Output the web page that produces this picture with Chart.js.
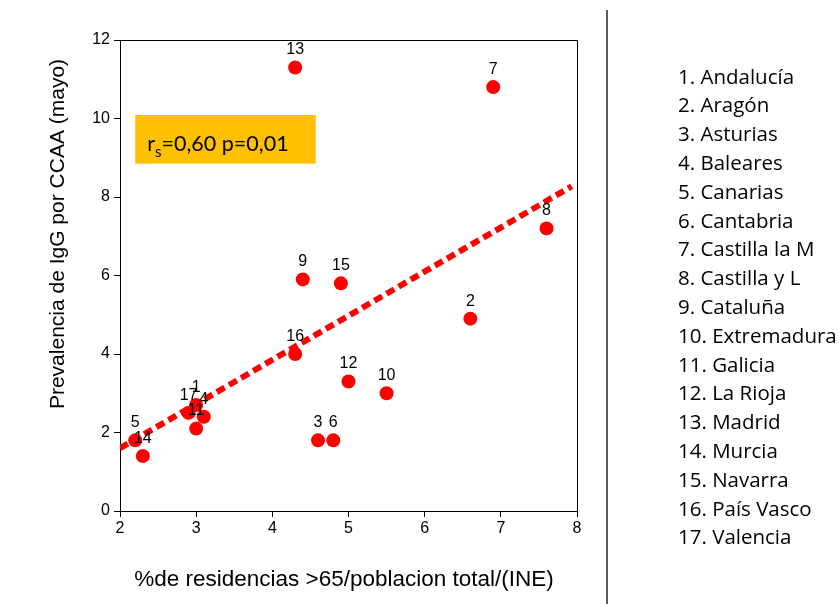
<!DOCTYPE html>
<html>
<head>
<meta charset="utf-8">
<script src="https://cdn.jsdelivr.net/npm/chart.js@4"></script>
<style>
  html, body { margin: 0; padding: 0; background: #fff; }
  #wrap { position: relative; width: 839px; height: 604px; }
</style>
</head>
<body>
<div id="wrap"><canvas id="c" width="839" height="604"></canvas></div>
<script>
// Comunidades autónomas (numbered as in the side list)
const regionIds = ['1','2','3','4','5','6','7','8','9','10','11','12','13','14','15','16','17'];
const regionNames = ['Andalucía','Aragón','Asturias','Baleares','Canarias','Cantabria',
  'Castilla la M','Castilla y L','Cataluña','Extremadura','Galicia','La Rioja',
  'Madrid','Murcia','Navarra','País Vasco','Valencia'];
// % residencias >65 / población total (INE)
const residencias = [3.0, 6.6, 4.6, 3.1, 2.2, 4.8, 6.9, 7.6, 4.4, 5.5, 3.0, 5.0, 4.3, 2.3, 4.9, 4.3, 2.9];
// Prevalencia de IgG (mayo)
const prevalencia = [2.7, 4.9, 1.8, 2.4, 1.8, 1.8, 10.8, 7.2, 5.9, 3.0, 2.1, 3.3, 11.3, 1.4, 5.8, 4.0, 2.5];
// Regression line end points
const trendX = [2.0, 7.93];
const trendY = [1.6, 8.27];
// Axis ticks and titles
const xTicks = [2, 3, 4, 5, 6, 7, 8];
const yTicks = [0, 2, 4, 6, 8, 10, 12];
const xTitle = '%de residencias >65/poblacion total/(INE)';
const yTitle = 'Prevalencia de IgG por CCAA (mayo)';
// Correlation note
const corrText = ['r', 's', '=0,60 p=0,01'];
const corrBox = { x0: 2.2, x1: 4.57, y0: 10.09, y1: 8.85 };

const AXIS_FONT = 'Arial, "Liberation Sans", sans-serif';
const NOTE_FONT = 'Lato, "Open Sans", sans-serif';
const LIST_FONT = '"Open Sans", Lato, sans-serif';

const scatterPoints = residencias.map((x, i) => ({ x, y: prevalencia[i] }));
const trendPoints = trendX.map((x, i) => ({ x, y: trendY[i] }));

const extras = {
  id: 'extras',
  beforeDatasetsDraw(chart) {
    const { ctx, scales: { x, y } } = chart;
    // correlation box
    const bx = x.getPixelForValue(corrBox.x0), bx1 = x.getPixelForValue(corrBox.x1);
    const by = y.getPixelForValue(corrBox.y0), by1 = y.getPixelForValue(corrBox.y1);
    ctx.save();
    ctx.fillStyle = '#FFC000';
    ctx.fillRect(bx, by, bx1 - bx, by1 - by);
    ctx.fillStyle = '#000';
    ctx.textBaseline = 'alphabetic';
    ctx.textAlign = 'left';
    let tx = bx + 12, base = by + 36;
    ctx.font = '21.5px ' + NOTE_FONT;
    ctx.fillText(corrText[0], tx, base);
    tx += ctx.measureText(corrText[0]).width;
    ctx.font = '15px ' + NOTE_FONT;
    ctx.fillText(corrText[1], tx, base + 6);
    tx += ctx.measureText(corrText[1]).width;
    ctx.font = '21.5px ' + NOTE_FONT;
    ctx.fillText(corrText[2], tx, base);
    ctx.restore();
  },
  afterDatasetsDraw(chart) {
    const { ctx, chartArea: a, scales: { x, y } } = chart;
    ctx.save();
    // frame around plot
    ctx.strokeStyle = '#000';
    ctx.lineWidth = 1;
    ctx.beginPath();
    ctx.moveTo(a.left, a.top + 0.5);
    ctx.lineTo(a.right + 0.5, a.top + 0.5);
    ctx.lineTo(a.right + 0.5, a.bottom);
    ctx.stroke();
    // point numbers
    ctx.fillStyle = '#000';
    ctx.font = '16px ' + AXIS_FONT;
    ctx.textAlign = 'center';
    ctx.textBaseline = 'middle';
    regionIds.forEach((id, i) => {
      const px = x.getPixelForValue(residencias[i]);
      const py = y.getPixelForValue(prevalencia[i]);
      ctx.fillText(id, px, py - 17.5);
    });
    // axis titles
    ctx.font = '22.5px ' + AXIS_FONT;
    ctx.fillText(xTitle, 344, 580);
    ctx.save();
    ctx.translate(58, 234);
    ctx.rotate(-Math.PI / 2);
    ctx.font = '21px ' + AXIS_FONT;
    ctx.fillText(yTitle, 0, 0);
    ctx.restore();
    // divider
    ctx.lineWidth = 1.3;
    ctx.beginPath();
    ctx.moveTo(607, 10);
    ctx.lineTo(607, 604);
    ctx.stroke();
    // region list
    ctx.font = '20.5px ' + LIST_FONT;
    ctx.textAlign = 'left';
    ctx.textBaseline = 'alphabetic';
    regionNames.forEach((name, i) => {
      ctx.fillText(regionIds[i] + '. ' + name, 678, 83.5 + i * 28.8);
    });
    ctx.restore();
  }
};

new Chart(document.getElementById('c'), {
  data: {
    datasets: [
      {
        type: 'scatter',
        data: scatterPoints,
        backgroundColor: '#FF0000',
        borderColor: '#FF0000',
        pointRadius: 7,
        pointHoverRadius: 7,
        borderWidth: 0
      },
      {
        type: 'line',
        data: trendPoints,
        borderColor: '#FF0000',
        borderWidth: 6,
        borderDash: [9, 5],
        borderCapStyle: 'butt',
        pointRadius: 0,
        fill: false
      }
    ]
  },
  options: {
    responsive: false,
    animation: false,
    devicePixelRatio: 1,
    layout: { padding: { top: 40, right: 262, left: 0, bottom: 0 } },
    plugins: { legend: { display: false }, tooltip: { enabled: false } },
    scales: {
      x: {
        type: 'linear',
        min: xTicks[0],
        max: xTicks[xTicks.length - 1],
        afterBuildTicks: s => { s.ticks = xTicks.map(v => ({ value: v })); },
        afterFit: s => { s.height = 93; },
        ticks: { color: '#000', font: { family: AXIS_FONT, size: 16 }, padding: 2, maxRotation: 0 },
        grid: { drawOnChartArea: false, drawTicks: true, tickLength: 6, color: '#000' },
        border: { color: '#000', width: 1 }
      },
      y: {
        type: 'linear',
        min: yTicks[0],
        max: yTicks[yTicks.length - 1],
        afterBuildTicks: s => { s.ticks = yTicks.map(v => ({ value: v })); },
        afterFit: s => { s.width = 120; },
        ticks: { color: '#000', font: { family: AXIS_FONT, size: 16 }, padding: 4 },
        grid: { drawOnChartArea: false, drawTicks: true, tickLength: 6, color: '#000' },
        border: { color: '#000', width: 1 }
      }
    }
  },
  plugins: [extras]
});
</script>
</body>
</html>
